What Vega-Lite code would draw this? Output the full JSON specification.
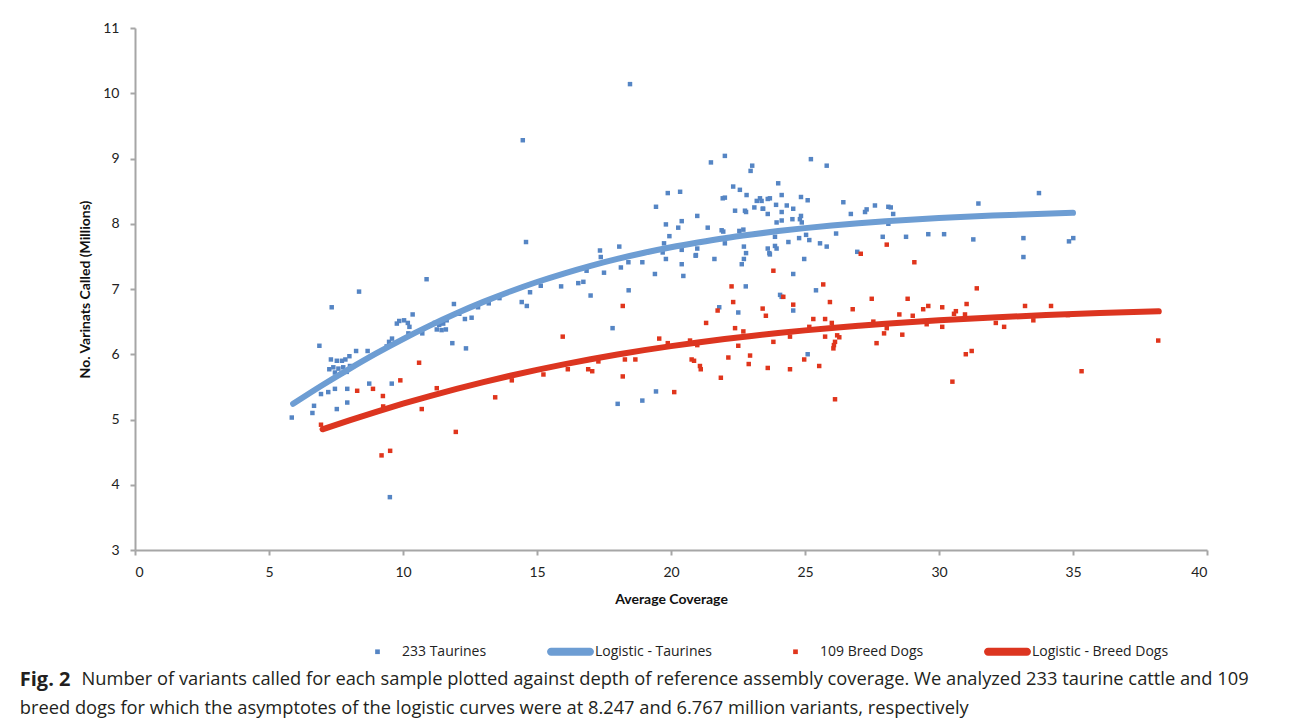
{
  "$schema": "https://vega.github.io/schema/vega-lite/v6.json",
  "width": 1072,
  "height": 522,
  "autosize": {"type": "none"},
  "padding": {"left": 135, "top": 28, "right": 83, "bottom": 174},
  "background": "white",
  "config": {
    "view": {"stroke": null},
    "axis": {
      "grid": false,
      "domainColor": "#a6a6a6",
      "domainWidth": 2,
      "tickColor": "#a6a6a6",
      "tickWidth": 2,
      "tickSize": 5,
      "labelFont": "Lato",
      "labelFontSize": 14,
      "labelColor": "#222222",
      "titleFont": "Lato",
      "titleFontSize": 14,
      "titleFontWeight": "bold",
      "titleColor": "#111111"
    },
    "legend": {
      "orient": "none",
      "legendX": 219,
      "legendY": 600,
      "direction": "horizontal",
      "columns": 4,
      "columnPadding": 60,
      "padding": 0,
      "symbolSize": 2200,
      "labelOffset": 1,
      "labelFont": "Open Sans",
      "labelFontSize": 14,
      "labelColor": "#222222",
      "symbolStrokeWidth": 0
    }
  },
  "title": {
    "text": "Fig. 2",
    "subtitle": ["\u200b\u00a0\u00a0\u00a0\u00a0\u00a0\u00a0\u00a0\u00a0\u00a0\u00a0\u00a0\u00a0\u00a0Number of variants called for each sample plotted against depth of reference assembly coverage. We analyzed 233 taurine cattle and 109", "breed dogs for which the asymptotes of the logistic curves were at 8.247 and 6.767 million variants, respectively"],
    "orient": "bottom",
    "anchor": "start",
    "frame": "bounds",
    "font": "Open Sans",
    "fontSize": 20,
    "fontWeight": "bold",
    "color": "#231f20",
    "subtitleFont": "Open Sans",
    "subtitleFontSize": 18.3,
    "subtitleColor": "#231f20",
    "subtitleLineHeight": 29,
    "subtitlePadding": -19,
    "offset": 11,
    "dx": -59
  },
  "layer": [
    {
      "data": {"values": [
        {"c":5.85,"v":5.03},{"c":6.68,"v":5.21},{"c":6.62,"v":5.10},{"c":6.94,"v":5.39},{"c":7.21,"v":5.42},{"c":7.46,"v":5.47},{"c":7.92,"v":5.47},{"c":7.53,"v":5.16},{"c":7.92,"v":5.26},{"c":6.88,"v":6.13},{"c":7.34,"v":6.72},{"c":8.36,"v":6.96},
        {"c":7.31,"v":5.92},{"c":7.53,"v":5.90},{"c":7.72,"v":5.90},{"c":7.85,"v":5.92},{"c":8.0,"v":5.97},
        {"c":7.25,"v":5.77},{"c":7.4,"v":5.80},{"c":7.59,"v":5.78},{"c":7.77,"v":5.80},{"c":8.02,"v":5.82},
        {"c":7.46,"v":5.72},{"c":7.71,"v":5.71},{"c":7.9,"v":5.73},
        {"c":8.25,"v":6.05},{"c":8.74,"v":5.55},{"c":9.58,"v":5.55},{"c":8.68,"v":6.05},
        {"c":9.48,"v":6.19},{"c":9.39,"v":6.12},{"c":9.59,"v":6.24},
        {"c":9.77,"v":6.47},{"c":9.86,"v":6.51},{"c":10.04,"v":6.52},{"c":10.18,"v":6.48},{"c":10.24,"v":6.42},
        {"c":10.2,"v":6.32},{"c":10.36,"v":6.61},{"c":10.72,"v":6.32},{"c":10.88,"v":7.15},
        {"c":11.19,"v":6.48},{"c":11.35,"v":6.45},{"c":11.5,"v":6.47},{"c":11.63,"v":6.52},{"c":11.26,"v":6.38},{"c":11.44,"v":6.37},{"c":11.6,"v":6.38},
        {"c":9.51,"v":3.81},{"c":11.84,"v":6.17},{"c":11.9,"v":6.77},{"c":12.31,"v":6.54},{"c":12.56,"v":6.56},{"c":12.35,"v":6.09},
        {"c":12.8,"v":6.72},{"c":13.2,"v":6.78},{"c":13.6,"v":6.86},{"c":12.1,"v":6.62},
        {"c":14.74,"v":6.95},{"c":14.43,"v":6.80},{"c":14.62,"v":6.74},{"c":15.14,"v":7.05},{"c":15.9,"v":7.04},{"c":16.54,"v":7.09},{"c":16.73,"v":7.11},{"c":16.85,"v":7.28},{"c":17.5,"v":7.25},{"c":17.0,"v":6.9},{"c":18.42,"v":6.98},{"c":17.82,"v":6.4},{"c":18.01,"v":5.24},{"c":18.93,"v":5.29},{"c":19.44,"v":5.43},
        {"c":14.47,"v":9.28},{"c":14.59,"v":7.72},{"c":18.47,"v":10.14},{"c":17.35,"v":7.59},{"c":17.38,"v":7.49},{"c":18.07,"v":7.65},{"c":18.13,"v":7.33},{"c":18.41,"v":7.41},{"c":18.93,"v":7.41},{"c":19.4,"v":7.23},{"c":20.4,"v":7.38},{"c":20.46,"v":7.2},{"c":20.92,"v":7.51},{"c":21.62,"v":7.46},{"c":21.8,"v":6.72},{"c":22.51,"v":6.64},{"c":22.79,"v":7.04},
        {"c":19.44,"v":8.26},{"c":19.88,"v":8.47},{"c":20.34,"v":8.49},{"c":20.98,"v":8.12},{"c":19.81,"v":7.99},{"c":20.4,"v":8.04},{"c":20.27,"v":7.94},{"c":19.94,"v":7.81},{"c":19.74,"v":7.7},{"c":21.37,"v":7.94},{"c":21.89,"v":7.9},{"c":21.95,"v":7.88},
        {"c":21.49,"v":8.94},{"c":22.01,"v":9.04},{"c":23.03,"v":8.89},{"c":22.97,"v":8.81},{"c":22.32,"v":8.57},{"c":22.57,"v":8.52},{"c":22.82,"v":8.44},{"c":21.93,"v":8.39},{"c":22.01,"v":8.4},
        {"c":23.2,"v":8.35},{"c":23.32,"v":8.39},{"c":23.38,"v":8.35},{"c":23.61,"v":8.38},
        {"c":22.39,"v":8.2},{"c":22.76,"v":8.2},{"c":22.8,"v":8.18},{"c":23.11,"v":8.25},{"c":23.42,"v":8.23},{"c":23.61,"v":8.15},
        {"c":22.55,"v":7.89},{"c":22.7,"v":7.91},{"c":22.01,"v":7.7},{"c":22.72,"v":7.65},{"c":22.8,"v":7.55},{"c":22.72,"v":7.46},{"c":22.64,"v":7.38},{"c":23.61,"v":7.62},{"c":23.67,"v":7.55},
        {"c":19.69,"v":7.56},{"c":19.81,"v":7.46},{"c":20.4,"v":7.6},{"c":20.98,"v":7.62},{"c":20.93,"v":7.52},
        {"c":25.22,"v":8.99},{"c":25.81,"v":8.89},{"c":24.0,"v":8.62},{"c":23.69,"v":8.39},{"c":24.13,"v":8.44},{"c":24.85,"v":8.41},{"c":25.1,"v":8.36},
        {"c":23.44,"v":8.23},{"c":23.92,"v":8.29},{"c":24.32,"v":8.28},{"c":24.56,"v":8.23},{"c":24.13,"v":8.18},
        {"c":26.43,"v":8.33},{"c":24.85,"v":8.12},{"c":24.81,"v":8.07},{"c":24.53,"v":8.07},{"c":24.13,"v":8.05},{"c":23.94,"v":8.02},{"c":24.88,"v":8.02},
        {"c":27.61,"v":8.28},{"c":27.3,"v":8.22},{"c":27.24,"v":8.18},{"c":26.71,"v":8.15},{"c":28.11,"v":8.26},
        {"c":23.88,"v":7.8},{"c":25.04,"v":7.83},{"c":24.78,"v":7.78},{"c":25.16,"v":7.75},{"c":24.38,"v":7.72},{"c":25.56,"v":7.7},{"c":25.81,"v":7.65},{"c":26.16,"v":7.85},
        {"c":23.88,"v":7.66},{"c":23.94,"v":7.62},{"c":23.69,"v":7.53},
        {"c":24.97,"v":7.46},{"c":24.56,"v":7.23},{"c":26.95,"v":7.57},{"c":27.9,"v":7.8},{"c":24.07,"v":6.91},{"c":24.13,"v":6.88},{"c":25.41,"v":6.98},{"c":24.56,"v":6.67},{"c":25.1,"v":6.0},
        {"c":28.2,"v":8.25},{"c":28.29,"v":8.15},{"c":31.47,"v":8.31},{"c":33.73,"v":8.47},{"c":28.11,"v":8.0},{"c":28.77,"v":7.8},{"c":29.6,"v":7.84},{"c":30.19,"v":7.84},{"c":31.28,"v":7.76},{"c":33.15,"v":7.78},{"c":33.15,"v":7.49},{"c":34.85,"v":7.73},{"c":35.01,"v":7.78}
      ]},
      "mark": {"type": "point", "filled": true, "opacity": 1, "size": 2000, "strokeWidth": 0},
      "encoding": {
        "x": {"field": "c", "type": "quantitative", "title": "Average Coverage", "scale": {"domain": [0, 40], "nice": false}, "axis": {"values": [0,5,10,15,20,25,30,35,40], "format": "d", "labelPadding": 10, "titlePadding": 13}},
        "y": {"field": "v", "type": "quantitative", "title": "No. Varinats Called (Millions)", "scale": {"domain": [3, 11], "nice": false, "zero": false}, "axis": {"values": [3,4,5,6,7,8,9,10,11], "format": "d", "labelPadding": 11, "titlePadding": 10}},
        "color": {"datum": "233 Taurines", "title": null, "scale": {"domain": ["233 Taurines", "Logistic - Taurines", "109 Breed Dogs", "Logistic - Breed Dogs"], "range": ["#5585c4", "#6d9dd3", "#e0351c", "#dc3520"]},
          "legend": {"encode": {"symbols": {"update": {"fill": {"scale": "color", "field": "value"}, "strokeWidth": {"value": 0}, "opacity": {"value": 1}}}}}},
        "shape": {"datum": "233 Taurines", "scale": {"domain": ["233 Taurines", "Logistic - Taurines", "109 Breed Dogs", "Logistic - Breed Dogs"], "range": ["M-0.1,-0.1H0.1V0.1H-0.1Z", "M-0.83,-0.17H0.83A0.17,0.17 0 0 1 0.83,0.17H-0.83A0.17,0.17 0 0 1 -0.83,-0.17Z", "M-0.1,-0.1H0.1V0.1H-0.1Z", "M-0.83,-0.17H0.83A0.17,0.17 0 0 1 0.83,0.17H-0.83A0.17,0.17 0 0 1 -0.83,-0.17Z"]}}
      }
    },
    {
      "data": {"values": [
        {"c":5.9,"v":5.241},{"c":7,"v":5.529},{"c":8,"v":5.777},{"c":9,"v":6.013},{"c":10,"v":6.233},{"c":11,"v":6.438},{"c":12,"v":6.628},{"c":13,"v":6.803},{"c":14,"v":6.962},{"c":15,"v":7.107},{"c":16,"v":7.237},{"c":17,"v":7.355},{"c":18,"v":7.461},{"c":19,"v":7.555},{"c":20,"v":7.639},{"c":21,"v":7.712},{"c":22,"v":7.779},{"c":23,"v":7.836},{"c":24,"v":7.888},{"c":25,"v":7.933},{"c":26,"v":7.973},{"c":27,"v":8.008},{"c":28,"v":8.038},{"c":30,"v":8.088},{"c":32,"v":8.126},{"c":35,"v":8.167}
      ]},
      "mark": {"type": "line", "strokeWidth": 6, "strokeCap": "round", "interpolate": "monotone"},
      "encoding": {
        "x": {"field": "c", "type": "quantitative"},
        "y": {"field": "v", "type": "quantitative"},
        "color": {"datum": "Logistic - Taurines", "title": null,
          "legend": {"encode": {"symbols": {"update": {"fill": {"scale": "color", "field": "value"}, "strokeWidth": {"value": 0}, "opacity": {"value": 1}}}}}}
      }
    },
    {
      "data": {"values": [
        {"c":6.94,"v":4.92},{"c":8.29,"v":5.44},{"c":8.88,"v":5.47},{"c":9.25,"v":5.36},{"c":9.26,"v":5.2},{"c":9.9,"v":5.6},{"c":10.6,"v":5.87},{"c":11.26,"v":5.48},{"c":10.7,"v":5.16},{"c":9.2,"v":4.45},{"c":9.52,"v":4.52},{"c":11.97,"v":4.81},
        {"c":13.44,"v":5.34},{"c":14.06,"v":5.6},{"c":15.24,"v":5.69},{"c":15.96,"v":6.27},{"c":16.15,"v":5.77},{"c":16.91,"v":5.77},{"c":17.06,"v":5.74},{"c":17.29,"v":5.89},{"c":18.2,"v":6.74},{"c":18.28,"v":5.92},{"c":18.67,"v":5.92},{"c":18.2,"v":5.66},{"c":19.56,"v":6.24},{"c":19.88,"v":6.17},{"c":20.12,"v":5.42},{"c":20.71,"v":6.21},{"c":20.98,"v":6.14},{"c":20.77,"v":5.92},{"c":20.86,"v":5.9},{"c":21.08,"v":5.82},{"c":21.11,"v":5.77},{"c":21.31,"v":6.48},{"c":21.74,"v":6.67},{"c":22.26,"v":7.04},{"c":22.32,"v":6.8},{"c":21.86,"v":5.64},{"c":22.14,"v":5.95},{"c":22.39,"v":6.4},{"c":22.7,"v":6.35},{"c":22.51,"v":6.13},{"c":22.95,"v":5.98},{"c":22.9,"v":5.85},{"c":23.42,"v":6.7},{"c":23.54,"v":6.59},{"c":23.61,"v":5.79},{"c":23.82,"v":7.28},{"c":23.82,"v":6.19},{"c":24.19,"v":6.88},{"c":24.44,"v":6.27},{"c":24.56,"v":6.76},{"c":24.44,"v":5.77},{"c":24.97,"v":5.92},{"c":25.16,"v":6.42},{"c":25.31,"v":6.54},{"c":25.75,"v":6.54},{"c":25.53,"v":5.82},{"c":25.68,"v":7.07},{"c":25.75,"v":6.27},{"c":25.93,"v":6.8},{"c":26.0,"v":6.48},{"c":26.12,"v":6.19},{"c":26.08,"v":6.14},{"c":26.06,"v":6.09},{"c":26.2,"v":6.29},{"c":26.28,"v":6.26},{"c":26.12,"v":5.31},{"c":26.78,"v":6.69},{"c":27.08,"v":7.54},{"c":27.49,"v":6.85},{"c":27.67,"v":6.17},{"c":27.95,"v":6.32},{"c":28.05,"v":7.68},{"c":27.55,"v":6.5},{"c":28.05,"v":6.4},{"c":28.52,"v":6.61},{"c":28.63,"v":6.3},{"c":28.83,"v":6.85},{"c":29.02,"v":6.59},{"c":29.08,"v":7.41},{"c":29.41,"v":6.69},{"c":29.54,"v":6.46},{"c":29.6,"v":6.74},{"c":30.12,"v":6.72},{"c":30.12,"v":6.42},{"c":30.5,"v":5.58},{"c":30.56,"v":6.62},{"c":30.63,"v":6.66},{"c":30.97,"v":6.61},{"c":31.03,"v":6.77},{"c":31.0,"v":6.0},{"c":31.22,"v":6.05},{"c":31.41,"v":7.01},{"c":32.12,"v":6.48},{"c":32.43,"v":6.42},{"c":33.21,"v":6.74},{"c":33.52,"v":6.52},{"c":34.18,"v":6.74},{"c":34.81,"v":6.6},{"c":35.32,"v":5.74},{"c":38.18,"v":6.21}
      ]},
      "mark": {"type": "point", "filled": true, "opacity": 1, "size": 2000, "strokeWidth": 0},
      "encoding": {
        "x": {"field": "c", "type": "quantitative"},
        "y": {"field": "v", "type": "quantitative"},
        "color": {"datum": "109 Breed Dogs", "title": null,
          "legend": {"encode": {"symbols": {"update": {"fill": {"scale": "color", "field": "value"}, "strokeWidth": {"value": 0}, "opacity": {"value": 1}}}}}},
        "shape": {"datum": "109 Breed Dogs"}
      }
    },
    {
      "data": {"values": [
        {"c":7,"v":4.85},{"c":8,"v":4.987},{"c":9,"v":5.118},{"c":10,"v":5.242},{"c":11,"v":5.359},{"c":12,"v":5.469},{"c":13,"v":5.573},{"c":14,"v":5.67},{"c":15,"v":5.761},{"c":16,"v":5.845},{"c":17,"v":5.923},{"c":18,"v":5.995},{"c":19,"v":6.063},{"c":20,"v":6.125},{"c":21,"v":6.181},{"c":22,"v":6.233},{"c":23,"v":6.281},{"c":24,"v":6.325},{"c":25,"v":6.366},{"c":26,"v":6.403},{"c":27,"v":6.436},{"c":28,"v":6.467},{"c":30,"v":6.52},{"c":32,"v":6.564},{"c":34,"v":6.601},{"c":36,"v":6.631},{"c":38.2,"v":6.658}
      ]},
      "mark": {"type": "line", "strokeWidth": 6, "strokeCap": "round", "interpolate": "monotone"},
      "encoding": {
        "x": {"field": "c", "type": "quantitative"},
        "y": {"field": "v", "type": "quantitative"},
        "color": {"datum": "Logistic - Breed Dogs", "title": null,
          "legend": {"encode": {"symbols": {"update": {"fill": {"scale": "color", "field": "value"}, "strokeWidth": {"value": 0}, "opacity": {"value": 1}}}}}}
      }
    }
  ]
}
